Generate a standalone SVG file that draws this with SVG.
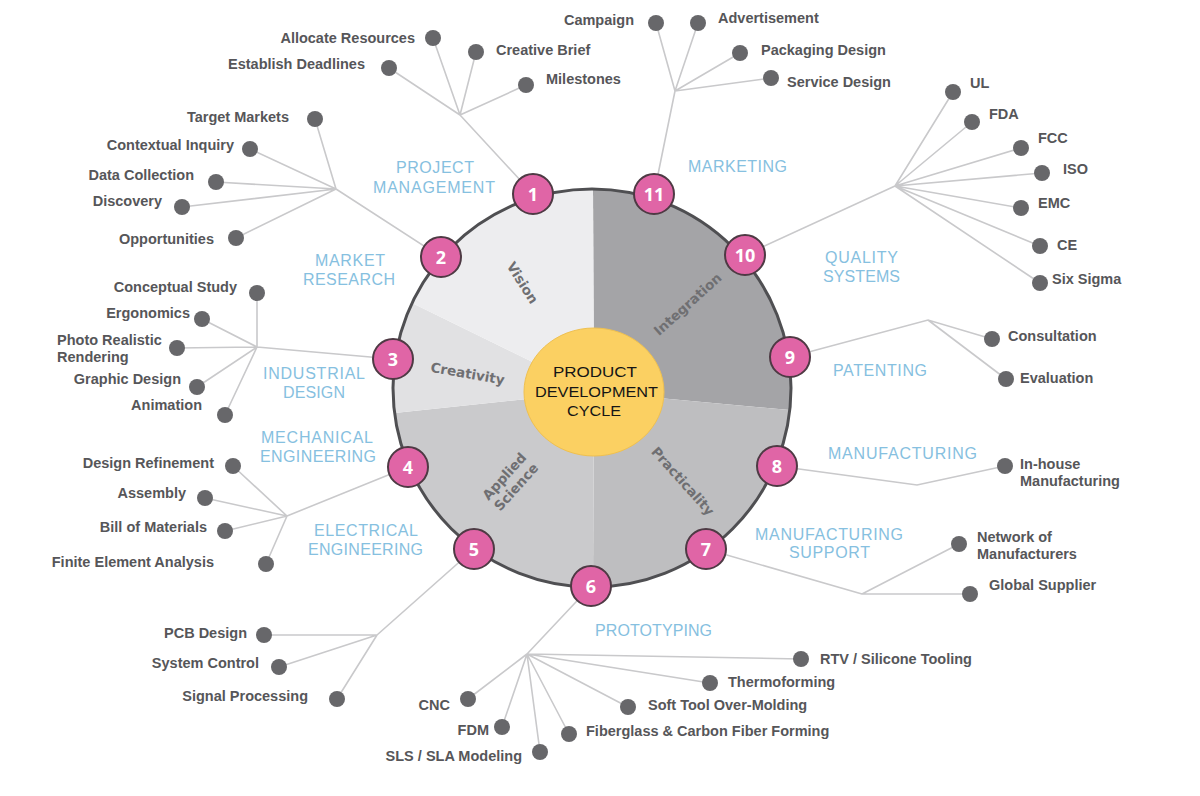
<svg xmlns="http://www.w3.org/2000/svg" width="1200" height="796" viewBox="0 0 1200 796">
<style>
.ln{stroke:#c9c9cb;stroke-width:1.6;fill:none;stroke-linecap:round}
.dot{fill:#67676a}
.it{font-family:"Liberation Sans",Arial,sans-serif;font-weight:bold;font-size:14.5px;fill:#565659}
.cat{font-family:"Liberation Sans",Arial,sans-serif;font-size:16px;fill:#86c0e0;text-anchor:middle}
.num{fill:#e065a6;stroke:#4e3a44;stroke-width:2}
.nt{font-family:"Open Sans","DejaVu Sans",sans-serif;font-weight:bold;font-size:18px;fill:#ffffff;text-anchor:middle}
.sec{font-family:"DejaVu Sans",sans-serif;font-weight:bold;font-size:13.5px;fill:#6f6f72;text-anchor:middle}
.ctr{font-family:"Liberation Sans",Arial,sans-serif;font-size:15px;fill:#151515;text-anchor:middle}
.e{text-anchor:end}
</style>
<rect width="1200" height="796" fill="#ffffff"/>

<g id="connectors" class="ln">
<path d="M533,194 L460,115 M460,115 L433,38 M460,115 L476,52 M460,115 L389,68 M460,115 L526,85"/>
<path d="M654,194 L675,91 M675,91 L656,23 M675,91 L698,23 M675,91 L740,53 M675,91 L771,78"/>
<path d="M745,255 L895,186 M895,186 L953,92 M895,186 L972,122 M895,186 L1021,148 M895,186 L1042,173 M895,186 L1021,208 M895,186 L1040,246 M895,186 L1040,283"/>
<path d="M441,257 L336,189 M336,189 L315,119 M336,189 L250,149 M336,189 L216,182 M336,189 L182,207 M336,189 L236,238"/>
<path d="M393,359 L257,347 M257,347 L257,293 M257,347 L202,319 M257,347 L177,348 M257,347 L197,387 M257,347 L225,415"/>
<path d="M408,467 L287,516 M287,516 L233,466 M287,516 L205,498 M287,516 L225,531 M287,516 L266,564"/>
<path d="M474,549 L377,635 M377,635 L264,635 M377,635 L279,667 M377,635 L337,699"/>
<path d="M591,586 L527,654 M527,654 L801,659 M527,654 L710,683 M527,654 L628,707 M527,654 L569,734 M527,654 L540,752 M527,654 L502,727 M527,654 L468,699"/>
<path d="M706,549 L862,594 M862,594 L959,544 M862,594 L970,594"/>
<path d="M777,466 L917,485 L1005,466"/>
<path d="M790,357 L928,320 L992,339 M928,320 L1006,379"/>
</g>

<g id="wheel">
<path d="M594,392 L593,189 A199,199 0 0 1 789.8,410 Z" fill="#a4a4a7"/>
<path d="M594,392 L789.8,410 A199,199 0 0 1 593,587 Z" fill="#bebec0"/>
<path d="M594,392 L593,587 A199,199 0 0 1 394.6,412.9 Z" fill="#cacacc"/>
<path d="M594,392 L394.6,412.9 A199,199 0 0 1 412,303 Z" fill="#e1e1e3"/>
<path d="M594,392 L412,303 A199,199 0 0 1 593,189 Z" fill="#ededef"/>
<circle cx="592" cy="388" r="199" fill="none" stroke="#4f4f52" stroke-width="3"/>
<text class="sec" transform="translate(522.7,282.7) rotate(58)" y="5">Vision</text>
<text class="sec" transform="translate(687.5,304) rotate(-42)" y="5">Integration</text>
<text class="sec" transform="translate(467.7,373.3) rotate(10)" y="5">Creativity</text>
<g transform="translate(510,481.5) rotate(-48)">
<text class="sec" y="-3">Applied</text>
<text class="sec" y="13">Science</text>
</g>
<text class="sec" transform="translate(683,481) rotate(48)" y="5">Practicality</text>
</g>

<g id="center">
<ellipse cx="594" cy="392" rx="70" ry="64" fill="#fbd062" stroke="#efc050" stroke-width="1"/>
<text class="ctr" x="595" y="377" textLength="84" lengthAdjust="spacingAndGlyphs">PRODUCT</text>
<text class="ctr" x="596.5" y="397" textLength="123" lengthAdjust="spacingAndGlyphs">DEVELOPMENT</text>
<text class="ctr" x="594" y="416" textLength="54" lengthAdjust="spacingAndGlyphs">CYCLE</text>
</g>

<g id="node-1"><circle class="num" cx="533" cy="194" r="20"/><text class="nt" x="533" y="200.5">1</text>
<text class="cat" x="435" y="173" textLength="78">PROJECT</text><text class="cat" x="434" y="193" textLength="122">MANAGEMENT</text></g>
<g id="node-2"><circle class="num" cx="441" cy="257" r="20"/><text class="nt" x="441" y="263.5">2</text>
<text class="cat" x="350" y="266" textLength="70">MARKET</text><text class="cat" x="349" y="285" textLength="92">RESEARCH</text></g>
<g id="node-3"><circle class="num" cx="393" cy="359" r="20"/><text class="nt" x="393" y="365.5">3</text>
<text class="cat" x="314" y="379" textLength="102">INDUSTRIAL</text><text class="cat" x="314" y="398" textLength="62">DESIGN</text></g>
<g id="node-4"><circle class="num" cx="408" cy="467" r="20"/><text class="nt" x="408" y="473.5">4</text>
<text class="cat" x="317" y="443" textLength="112">MECHANICAL</text><text class="cat" x="318" y="462" textLength="116">ENGINEERING</text></g>
<g id="node-5"><circle class="num" cx="474" cy="549" r="20"/><text class="nt" x="474" y="555.5">5</text>
<text class="cat" x="366" y="536" textLength="104">ELECTRICAL</text><text class="cat" x="365.5" y="555" textLength="115">ENGINEERING</text></g>
<g id="node-6"><circle class="num" cx="591" cy="586" r="20"/><text class="nt" x="591" y="592.5">6</text>
<text class="cat" x="653.5" y="636" textLength="117">PROTOTYPING</text></g>
<g id="node-7"><circle class="num" cx="706" cy="549" r="20"/><text class="nt" x="706" y="555.5">7</text>
<text class="cat" x="829" y="540" textLength="148">MANUFACTURING</text><text class="cat" x="829.5" y="558" textLength="81">SUPPORT</text></g>
<g id="node-8"><circle class="num" cx="777" cy="466" r="20"/><text class="nt" x="777" y="472.5">8</text>
<text class="cat" x="902.5" y="459" textLength="149">MANUFACTURING</text></g>
<g id="node-9"><circle class="num" cx="790" cy="357" r="20"/><text class="nt" x="790" y="363.5">9</text>
<text class="cat" x="880" y="376" textLength="94">PATENTING</text></g>
<g id="node-10"><circle class="num" cx="745" cy="255" r="20"/><text class="nt" x="745" y="261.5">10</text>
<text class="cat" x="861.5" y="263" textLength="73">QUALITY</text><text class="cat" x="861.5" y="282" textLength="77">SYSTEMS</text></g>
<g id="node-11"><circle class="num" cx="654" cy="194" r="20"/><text class="nt" x="654" y="200.5">11</text>
<text class="cat" x="737.5" y="172" textLength="99">MARKETING</text></g>

<g id="items-project-management">
<g id="allocate-resources"><circle class="dot" cx="433" cy="38" r="8"/><text class="it e" x="415" y="43">Allocate Resources</text></g>
<g id="creative-brief"><circle class="dot" cx="476" cy="52" r="8"/><text class="it" x="496" y="55">Creative Brief</text></g>
<g id="establish-deadlines"><circle class="dot" cx="389" cy="68" r="8"/><text class="it e" x="365" y="69">Establish Deadlines</text></g>
<g id="milestones"><circle class="dot" cx="526" cy="85" r="8"/><text class="it" x="546" y="84">Milestones</text></g>
</g>
<g id="items-marketing">
<g id="campaign"><circle class="dot" cx="656" cy="23" r="8"/><text class="it e" x="634" y="24.5">Campaign</text></g>
<g id="advertisement"><circle class="dot" cx="698" cy="23" r="8"/><text class="it" x="718" y="22.5">Advertisement</text></g>
<g id="packaging-design"><circle class="dot" cx="740" cy="53" r="8"/><text class="it" x="761" y="55">Packaging Design</text></g>
<g id="service-design"><circle class="dot" cx="771" cy="78" r="8"/><text class="it" x="787" y="87">Service Design</text></g>
</g>
<g id="items-quality-systems">
<g id="ul"><circle class="dot" cx="953" cy="92" r="8"/><text class="it" x="970" y="88">UL</text></g>
<g id="fda"><circle class="dot" cx="972" cy="122" r="8"/><text class="it" x="989" y="119">FDA</text></g>
<g id="fcc"><circle class="dot" cx="1021" cy="148" r="8"/><text class="it" x="1038" y="143">FCC</text></g>
<g id="iso"><circle class="dot" cx="1042" cy="173" r="8"/><text class="it" x="1063" y="174">ISO</text></g>
<g id="emc"><circle class="dot" cx="1021" cy="208" r="8"/><text class="it" x="1038" y="208">EMC</text></g>
<g id="ce"><circle class="dot" cx="1040" cy="246" r="8"/><text class="it" x="1057" y="250">CE</text></g>
<g id="six-sigma"><circle class="dot" cx="1040" cy="283" r="8"/><text class="it" x="1052" y="284">Six Sigma</text></g>
</g>
<g id="items-market-research">
<g id="target-markets"><circle class="dot" cx="315" cy="119" r="8"/><text class="it e" x="289" y="122">Target Markets</text></g>
<g id="contextual-inquiry"><circle class="dot" cx="250" cy="149" r="8"/><text class="it e" x="234" y="150">Contextual Inquiry</text></g>
<g id="data-collection"><circle class="dot" cx="216" cy="182" r="8"/><text class="it e" x="194" y="180">Data Collection</text></g>
<g id="discovery"><circle class="dot" cx="182" cy="207" r="8"/><text class="it e" x="162" y="206">Discovery</text></g>
<g id="opportunities"><circle class="dot" cx="236" cy="238" r="8"/><text class="it e" x="214" y="244">Opportunities</text></g>
</g>
<g id="items-industrial-design">
<g id="conceptual-study"><circle class="dot" cx="257" cy="293" r="8"/><text class="it e" x="237" y="292">Conceptual Study</text></g>
<g id="ergonomics"><circle class="dot" cx="202" cy="319" r="8"/><text class="it e" x="190" y="318">Ergonomics</text></g>
<g id="photo-realistic-rendering"><circle class="dot" cx="177" cy="348" r="8"/><text class="it" x="57" y="345">Photo Realistic</text><text class="it" x="57" y="362">Rendering</text></g>
<g id="graphic-design"><circle class="dot" cx="197" cy="387" r="8"/><text class="it e" x="181" y="384">Graphic Design</text></g>
<g id="animation"><circle class="dot" cx="225" cy="415" r="8"/><text class="it e" x="202" y="410">Animation</text></g>
</g>
<g id="items-mechanical-engineering">
<g id="design-refinement"><circle class="dot" cx="233" cy="466" r="8"/><text class="it e" x="214" y="468">Design Refinement</text></g>
<g id="assembly"><circle class="dot" cx="205" cy="498" r="8"/><text class="it e" x="186" y="498">Assembly</text></g>
<g id="bill-of-materials"><circle class="dot" cx="225" cy="531" r="8"/><text class="it e" x="207" y="532">Bill of Materials</text></g>
<g id="finite-element-analysis"><circle class="dot" cx="266" cy="564" r="8"/><text class="it e" x="214" y="567">Finite Element Analysis</text></g>
</g>
<g id="items-electrical-engineering">
<g id="pcb-design"><circle class="dot" cx="264" cy="635" r="8"/><text class="it e" x="247" y="638">PCB Design</text></g>
<g id="system-control"><circle class="dot" cx="279" cy="667" r="8"/><text class="it e" x="259" y="668">System Control</text></g>
<g id="signal-processing"><circle class="dot" cx="337" cy="699" r="8"/><text class="it e" x="308" y="701">Signal Processing</text></g>
</g>
<g id="items-prototyping">
<g id="rtv"><circle class="dot" cx="801" cy="659" r="8"/><text class="it" x="820" y="664">RTV / Silicone Tooling</text></g>
<g id="thermoforming"><circle class="dot" cx="710" cy="683" r="8"/><text class="it" x="728" y="687">Thermoforming</text></g>
<g id="soft-tool"><circle class="dot" cx="628" cy="707" r="8"/><text class="it" x="648" y="710">Soft Tool Over-Molding</text></g>
<g id="fiberglass"><circle class="dot" cx="569" cy="734" r="8"/><text class="it" x="586" y="736">Fiberglass &amp; Carbon Fiber Forming</text></g>
<g id="sls-sla"><circle class="dot" cx="540" cy="752" r="8"/><text class="it e" x="522" y="761">SLS / SLA Modeling</text></g>
<g id="fdm"><circle class="dot" cx="502" cy="727" r="8"/><text class="it e" x="489" y="735">FDM</text></g>
<g id="cnc"><circle class="dot" cx="468" cy="699" r="8"/><text class="it e" x="450" y="710">CNC</text></g>
</g>
<g id="items-manufacturing-support">
<g id="network-of-manufacturers"><circle class="dot" cx="959" cy="544" r="8"/><text class="it" x="977" y="542">Network of</text><text class="it" x="977" y="559">Manufacturers</text></g>
<g id="global-supplier"><circle class="dot" cx="970" cy="594" r="8"/><text class="it" x="989" y="590">Global Supplier</text></g>
</g>
<g id="items-manufacturing">
<g id="in-house"><circle class="dot" cx="1005" cy="466" r="8"/><text class="it" x="1020" y="469">In-house</text><text class="it" x="1020" y="486">Manufacturing</text></g>
</g>
<g id="items-patenting">
<g id="consultation"><circle class="dot" cx="992" cy="339" r="8"/><text class="it" x="1008" y="341">Consultation</text></g>
<g id="evaluation"><circle class="dot" cx="1006" cy="379" r="8"/><text class="it" x="1020" y="383">Evaluation</text></g>
</g>
</svg>
